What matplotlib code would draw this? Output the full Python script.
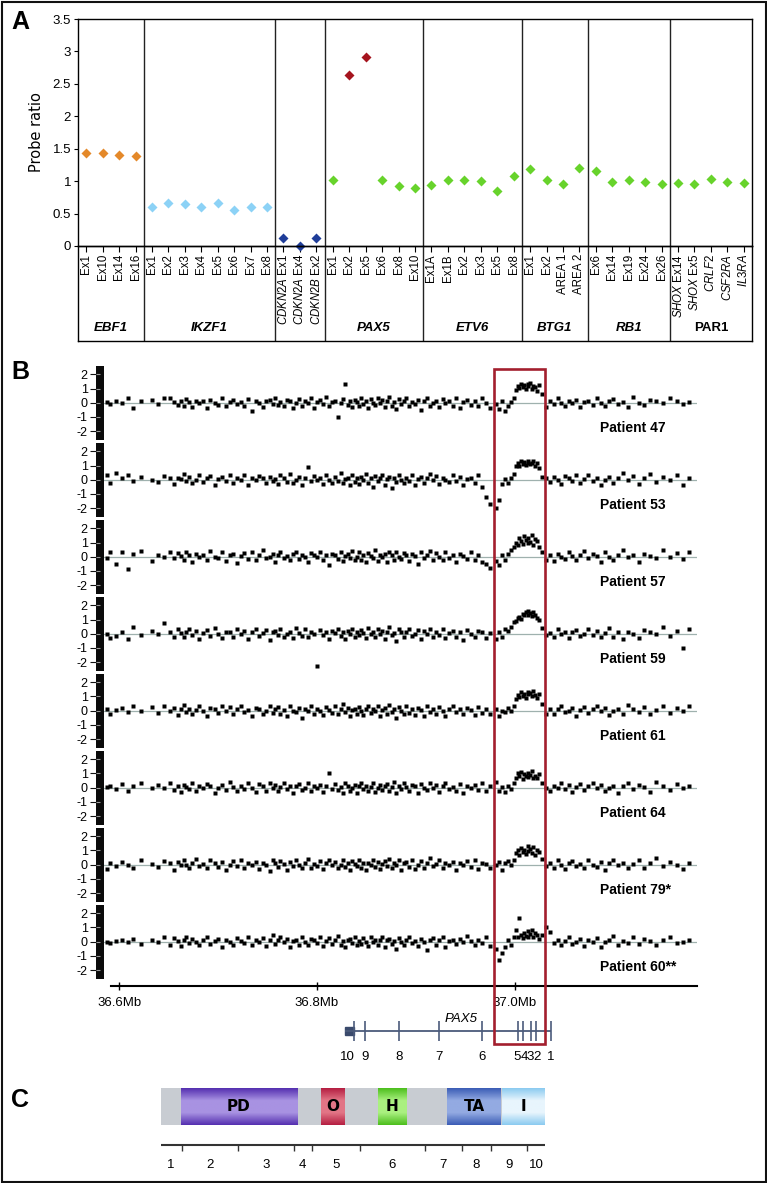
import matplotlib
matplotlib.use('Agg')

import numpy as np
import matplotlib.pyplot as plt
from matplotlib.patches import Rectangle
from matplotlib.colors import LinearSegmentedColormap

plt.rcParams['font.family'] = 'Liberation Sans'
plt.rcParams['mathtext.fontset'] = 'custom'
plt.rcParams['mathtext.rm'] = 'Liberation Sans'
plt.rcParams['mathtext.it'] = 'Liberation Sans:italic'
plt.rcParams['mathtext.bf'] = 'Liberation Sans:bold'

W, H = 767, 1183
NARROW = 'Liberation Sans Narrow'

# PANEL A - MLPA probe ratios
GENE_NAMES = ["EBF1", "IKZF1", "", "PAX5", "ETV6", "BTG1", "RB1", "PAR1"]
GENE_ITALIC = [True, True, True, True, True, True, True, False]
PROBE_LABELS = [
    ["Ex1", "Ex10", "Ex14", "Ex16"],
    ["Ex1", "Ex2", "Ex3", "Ex4", "Ex5", "Ex6", "Ex7", "Ex8"],
    [r"$\mathit{CDKN2A}$ Ex1", r"$\mathit{CDKN2A}$ Ex4", r"$\mathit{CDKN2B}$ Ex2"],
    ["Ex1", "Ex2", "Ex5", "Ex6", "Ex8", "Ex10"],
    ["Ex1A", "Ex1B", "Ex2", "Ex3", "Ex5", "Ex8"],
    ["Ex1", "Ex2", "AREA 1", "AREA 2"],
    ["Ex6", "Ex14", "Ex19", "Ex24", "Ex26"],
    [r"$\mathit{SHOX}$ Ex14", r"$\mathit{SHOX}$ Ex5", r"$\mathit{CRLF2}$",
     r"$\mathit{CSF2RA}$", r"$\mathit{IL3RA}$"],
]
PROBE_RATIOS = [
    [1.44, 1.44, 1.40, 1.39],
    [0.60, 0.66, 0.64, 0.60, 0.66, 0.56, 0.60, 0.60],
    [0.12, 0.00, 0.12],
    [1.01, 2.64, 2.92, 1.02, 0.93, 0.89],
    [0.94, 1.01, 1.01, 1.00, 0.85, 1.08],
    [1.18, 1.01, 0.96, 1.21],
    [1.16, 0.98, 1.02, 0.99, 0.96],
    [0.97, 0.95, 1.04, 0.99, 0.97],
]
GROUP_COLOURS = ["#E4892A", "#8CD2F6", "#1F3D99", "#67D32B",
                 "#67D32B", "#67D32B", "#67D32B", "#67D32B"]
GAIN_COLOUR = "#A5141E"
GAIN_THRESHOLD = 2.0

# PANEL B - array CGH log2 ratios around PAX5 (positions in Mb)
PROBE_MB = [
    36.588, 36.591, 36.597, 36.603, 36.609, 36.614, 36.622, 36.633, 36.639, 36.645,
    36.651, 36.655, 36.659, 36.662, 36.665, 36.667, 36.670, 36.674, 36.678, 36.681,
    36.685, 36.689, 36.692, 36.697, 36.700, 36.704, 36.708, 36.712, 36.715, 36.719,
    36.723, 36.726, 36.730, 36.734, 36.738, 36.741, 36.745, 36.748, 36.752, 36.755,
    36.758, 36.761, 36.763, 36.767, 36.770, 36.773, 36.776, 36.779, 36.782, 36.785,
    36.788, 36.791, 36.794, 36.797, 36.800, 36.803, 36.806, 36.809, 36.812, 36.815,
    36.818, 36.821, 36.824, 36.826, 36.828, 36.831, 36.833, 36.835, 36.838, 36.840,
    36.843, 36.845, 36.847, 36.850, 36.852, 36.855, 36.857, 36.859, 36.862, 36.864,
    36.866, 36.869, 36.871, 36.873, 36.876, 36.878, 36.880, 36.883, 36.885, 36.888,
    36.890, 36.893, 36.896, 36.899, 36.902, 36.905, 36.908, 36.911, 36.914, 36.917,
    36.920, 36.923, 36.927, 36.930, 36.934, 36.938, 36.941, 36.945, 36.948, 36.952,
    36.956, 36.960, 36.963, 36.967, 36.971, 36.975, 36.981, 36.984, 36.987, 36.990,
    36.993, 36.996, 36.999, 37.001, 37.003, 37.004, 37.006, 37.008, 37.009, 37.011,
    37.013, 37.014, 37.016, 37.018, 37.019, 37.021, 37.023, 37.025, 37.028, 37.032,
    37.036, 37.040, 37.044, 37.047, 37.051, 37.055, 37.058, 37.062, 37.066, 37.070,
    37.074, 37.079, 37.083, 37.087, 37.091, 37.095, 37.100, 37.105, 37.110, 37.115,
    37.120, 37.126, 37.131, 37.137, 37.143, 37.150, 37.157, 37.164, 37.170, 37.176,
]

P47 = [
    0.05, -0.1, 0.12, -0.05, 0.3, -0.35, 0.1, 0.2, -0.1, 0.35,
    0.3, 0.02, -0.15, 0.1, -0.2, 0.25, 0.05, -0.3, 0.15, -0.05,
    0.1, -0.4, 0.2, 0.0, -0.15, 0.3, -0.25, 0.08, 0.18, -0.1,
    0.05, -0.2, 0.25, -0.6, 0.1, 0.0, -0.3, 0.15, 0.2, -0.1,
    0.35, -0.15, 0.05, -0.25, 0.2, 0.1, -0.4, 0.0, 0.25, -0.2,
    0.15, -0.05, 0.3, -0.35, 0.08, 0.22, -0.1, 0.4, -0.2, 0.05,
    0.12, -1.0, 0.0, 0.25, 1.3, -0.15, 0.1, -0.3, 0.2, 0.05,
    -0.2, 0.3, -0.1, 0.15, -0.35, 0.25, 0.0, -0.15, 0.35, -0.05,
    0.2, -0.3, 0.1, 0.4, -0.2, 0.05, -0.45, 0.25, -0.1, 0.15,
    0.3, -0.25, 0.05, -0.1, 0.2, -0.5, 0.1, 0.35, -0.2, 0.0,
    0.15, -0.3, 0.25, -0.05, 0.1, -0.2, 0.3, -0.35, 0.05, 0.2,
    -0.15, 0.1, -0.25, 0.3, 0.0, -0.4, -0.1, -0.45, 0.1, -0.6,
    -0.2, 0.05, 0.3, 0.9, 1.2, 1.05, 1.35, 1.1, 1.25, 0.95,
    1.3, 1.15, 1.4, 1.0, 1.2, 1.1, 0.8, 1.25, 0.6, -0.3,
    0.1, -0.1, 0.3, 0.0, -0.25, 0.15, -0.05, 0.2, -0.3, 0.05,
    0.12, -0.15, 0.35, 0.0, -0.2, 0.1, 0.25, -0.1, 0.05, -0.3,
    0.4, 0.0, -0.15, 0.2, 0.1, -0.05, 0.3, 0.15, -0.1, 0.05,
]
P53 = [
    0.3, -0.2, 0.45, 0.1, 0.35, -0.1, 0.2, 0.0, -0.15, 0.25,
    0.1, -0.3, 0.15, 0.05, 0.4, -0.1, 0.2, -0.25, 0.0, 0.3,
    -0.15, 0.1, 0.25, -0.35, 0.05, 0.2, -0.1, 0.35, -0.2, 0.1,
    0.0, 0.3, -0.4, 0.15, -0.05, 0.25, 0.1, -0.25, 0.2, -0.1,
    0.05, -0.3, 0.3, 0.1, -0.15, 0.4, -0.2, 0.0, 0.2, -0.35,
    0.15, 0.9, -0.1, 0.25, -0.05, 0.1, -0.3, 0.35, 0.0, -0.2,
    0.2, -0.1, 0.45, -0.25, 0.05, 0.15, -0.4, 0.3, -0.15, 0.1,
    -0.3, 0.2, 0.0, 0.4, -0.2, 0.1, -0.5, 0.25, -0.1, 0.15,
    0.3, -0.35, 0.05, 0.2, -0.6, 0.1, -0.15, 0.35, 0.0, -0.25,
    0.15, -0.1, 0.3, -0.4, 0.05, 0.2, -0.2, 0.1, 0.4, -0.05,
    0.25, -0.3, 0.1, 0.0, -0.15, 0.3, -0.1, 0.2, -0.35, 0.05,
    0.1, -0.2, 0.3, -0.5, -1.2, -1.7, -2.0, -1.4, -0.3, 0.05,
    -0.2, 0.1, 0.4, 0.95, 1.2, 1.0, 1.3, 1.1, 1.25, 1.05,
    1.2, 1.35, 1.1, 1.15, 1.3, 1.0, 1.2, 0.85, 0.2, 0.1,
    -0.15, 0.2, 0.0, -0.3, 0.25, 0.1, -0.1, 0.35, -0.2, 0.05,
    0.3, -0.1, 0.15, -0.4, 0.0, 0.2, -0.25, 0.1, 0.5, -0.05,
    0.25, -0.3, 0.1, 0.4, -0.15, 0.2, 0.0, 0.3, -0.35, 0.15,
]
P57 = [
    -0.1, 0.35, -0.5, 0.3, -0.9, 0.2, 0.4, -0.3, 0.15, 0.0,
    0.3, -0.1, 0.25, 0.05, -0.2, 0.35, 0.1, -0.35, 0.2, -0.05,
    0.15, -0.25, 0.4, 0.0, -0.1, 0.3, -0.3, 0.1, 0.2, -0.45,
    0.05, 0.25, -0.15, 0.3, -0.2, 0.1, 0.45, -0.1, 0.0, 0.2,
    -0.35, 0.15, 0.3, -0.1, 0.05, -0.25, 0.2, 0.35, -0.15, 0.1,
    0.0, -0.4, 0.25, 0.1, -0.05, 0.3, -0.2, 0.15, -0.6, 0.2,
    0.1, -0.15, 0.35, -0.3, 0.05, 0.2, -0.1, 0.4, -0.25, 0.0,
    0.3, -0.2, 0.15, -0.35, 0.25, 0.05, -0.1, 0.45, -0.3, 0.1,
    -0.05, 0.2, -0.4, 0.3, 0.1, -0.2, 0.35, 0.0, -0.15, 0.25,
    0.1, -0.3, 0.2, 0.05, -0.5, 0.3, -0.1, 0.15, 0.4, -0.2,
    0.25, 0.0, -0.25, 0.35, -0.1, 0.15, -0.4, 0.2, 0.05, -0.15,
    0.3, -0.2, 0.1, -0.35, -0.5, -0.8, -0.3, -0.6, 0.1, -0.2,
    0.2, 0.5, 0.7, 1.0, 0.85, 1.3, 1.1, 0.9, 1.45, 1.2,
    0.95, 1.35, 1.05, 1.5, 0.8, 1.25, 1.1, 0.7, 0.3, -0.2,
    0.1, -0.3, 0.2, 0.0, -0.15, 0.35, 0.05, -0.25, 0.15, 0.4,
    -0.1, 0.2, 0.05, -0.35, 0.3, 0.0, -0.2, 0.1, 0.45, -0.05,
    0.15, -0.4, 0.2, 0.05, -0.1, 0.5, 0.0, 0.25, -0.15, 0.3,
]
P59 = [
    0.0, -0.3, -0.15, 0.1, -0.4, 0.45, -0.1, 0.2, 0.0, 0.75,
    0.15, -0.2, 0.3, 0.05, -0.25, 0.1, 0.35, -0.1, 0.2, -0.4,
    0.05, 0.25, -0.15, 0.4, 0.0, -0.3, 0.15, 0.1, -0.2, 0.3,
    -0.05, 0.2, -0.35, 0.1, 0.3, -0.15, 0.05, 0.25, -0.45, 0.1,
    0.2, -0.1, 0.35, -0.25, 0.0, 0.15, -0.3, 0.4, 0.05, -0.15,
    0.3, -0.2, 0.1, 0.0, -2.3, 0.25, -0.1, 0.15, -0.35, 0.2,
    0.05, 0.35, -0.15, 0.1, -0.4, 0.2, 0.0, 0.3, -0.2, 0.15,
    -0.1, 0.25, 0.05, -0.3, 0.4, -0.05, 0.15, -0.25, 0.3, 0.0,
    0.2, -0.35, 0.1, 0.45, -0.1, 0.05, -0.5, 0.3, 0.15, -0.2,
    0.1, 0.3, -0.15, 0.0, 0.25, -0.4, 0.2, -0.05, 0.35, -0.25,
    0.15, -0.1, 0.3, -0.3, 0.05, 0.2, -0.2, 0.1, -0.45, 0.25,
    0.0, -0.25, 0.2, 0.1, -0.3, 0.05, -0.4, 0.1, -0.2, 0.3,
    0.2, 0.5, 0.8, 0.9, 1.1, 1.2, 1.05, 1.4, 1.3, 1.55,
    1.35, 1.6, 1.45, 1.25, 1.5, 1.3, 1.1, 1.0, 0.4, -0.1,
    0.05, -0.2, 0.3, -0.05, 0.15, -0.3, 0.1, 0.25, -0.15, 0.0,
    0.35, -0.1, 0.2, -0.25, 0.05, 0.4, -0.2, 0.1, -0.35, 0.15,
    0.0, -0.3, 0.25, 0.1, -0.05, 0.45, -0.15, 0.2, -1.0, 0.3,
]
P61 = [
    0.1, -0.2, 0.05, 0.2, -0.1, 0.3, 0.0, 0.25, -0.15, 0.35,
    -0.05, 0.2, -0.3, 0.1, 0.4, -0.1, 0.15, -0.25, 0.05, 0.3,
    0.0, -0.35, 0.2, 0.1, -0.15, 0.35, -0.05, 0.25, -0.2, 0.1,
    0.3, -0.1, 0.05, -0.4, 0.2, 0.15, -0.25, 0.0, 0.35, -0.15,
    0.1, 0.25, -0.2, 0.05, -0.35, 0.3, 0.0, -0.1, 0.2, -0.5,
    0.15, -0.05, 0.35, -0.2, 0.1, 0.0, -0.3, 0.25, 0.05, -0.15,
    0.3, -0.25, 0.1, 0.45, -0.1, 0.2, -0.4, 0.05, 0.15, -0.2,
    0.25, 0.0, -0.3, 0.15, 0.35, -0.15, 0.1, -0.05, 0.3, -0.35,
    0.05, 0.2, -0.2, 0.4, -0.1, 0.15, -0.5, 0.25, 0.0, -0.25,
    0.3, -0.15, 0.1, -0.3, 0.2, 0.05, -0.4, 0.35, -0.1, 0.15,
    -0.2, 0.25, 0.0, -0.35, 0.15, 0.3, -0.1, 0.1, -0.25, 0.2,
    0.05, -0.3, 0.25, -0.15, 0.1, -0.2, 0.15, -0.4, 0.0, -0.1,
    0.2, -0.05, 0.3, 0.8, 1.1, 0.95, 1.3, 1.05, 1.2, 0.9,
    1.35, 1.15, 1.25, 1.0, 1.4, 1.1, 0.9, 1.2, 0.5, -0.2,
    0.15, -0.25, 0.1, 0.3, -0.1, 0.0, 0.2, -0.35, 0.05, 0.25,
    -0.15, 0.1, 0.35, -0.05, 0.2, -0.3, 0.0, 0.15, -0.2, 0.4,
    0.1, -0.1, 0.25, -0.25, 0.05, 0.3, -0.15, 0.2, 0.0, 0.35,
]
P64 = [
    0.05, 0.1, -0.1, 0.25, -0.2, 0.15, 0.3, -0.05, 0.2, 0.0,
    0.35, -0.15, 0.1, -0.3, 0.2, 0.05, -0.1, 0.3, -0.25, 0.15,
    -0.05, 0.25, 0.1, -0.35, 0.0, 0.2, -0.15, 0.4, 0.05, -0.2,
    0.15, -0.1, 0.3, 0.0, -0.3, 0.25, 0.1, -0.2, 0.35, -0.05,
    0.2, -0.25, 0.05, 0.3, -0.1, 0.15, -0.4, 0.1, 0.25, -0.15,
    0.0, 0.35, -0.2, 0.1, -0.05, 0.2, -0.3, 0.15, 1.0, -0.1,
    0.25, -0.15, 0.05, -0.35, 0.3, 0.1, -0.2, 0.0, 0.2, -0.4,
    0.1, 0.3, -0.1, 0.15, -0.25, 0.05, 0.35, -0.3, 0.0, 0.2,
    -0.15, 0.1, 0.25, -0.2, 0.05, 0.4, -0.35, 0.15, -0.1, 0.3,
    0.05, -0.25, 0.2, 0.1, -0.4, 0.25, 0.0, -0.15, 0.3, -0.05,
    0.2, -0.3, 0.1, 0.35, -0.1, 0.05, -0.2, 0.25, -0.35, 0.15,
    0.0, 0.2, -0.15, 0.3, -0.25, 0.1, 0.4, -0.2, 0.05, -0.3,
    0.15, -0.1, 0.3, 0.7, 1.0, 0.85, 1.1, 0.6, 0.95, 0.8,
    1.05, 0.75, 0.9, 1.15, 0.65, 0.85, 0.7, 0.95, 0.3, 0.0,
    -0.2, 0.15, 0.0, 0.3, -0.1, 0.2, -0.3, 0.05, 0.25, -0.15,
    0.1, 0.35, -0.05, 0.2, -0.25, 0.0, 0.15, -0.4, 0.1, 0.3,
    -0.1, 0.2, 0.05, -0.3, 0.4, 0.15, -0.15, 0.25, 0.0, 0.1,
]
P79 = [
    -0.3, 0.15, -0.1, 0.2, 0.0, -0.2, 0.35, 0.05, -0.15, 0.25,
    0.1, -0.35, 0.2, -0.05, 0.3, 0.0, -0.2, 0.15, 0.4, -0.1,
    0.05, -0.25, 0.3, 0.1, -0.15, 0.2, -0.4, 0.0, 0.25, -0.1,
    0.35, -0.2, 0.1, -0.05, 0.2, -0.3, 0.15, 0.0, -0.45, 0.3,
    0.1, -0.15, 0.25, 0.05, -0.35, 0.2, -0.1, 0.3, 0.0, -0.25,
    0.15, 0.4, -0.2, 0.05, -0.1, 0.25, -0.3, 0.1, 0.35, -0.05,
    0.2, -0.25, 0.0, 0.3, -0.15, 0.1, -0.35, 0.25, 0.05, -0.1,
    0.35, -0.2, 0.15, -0.4, 0.1, 0.0, 0.3, -0.15, 0.2, -0.3,
    0.05, 0.25, -0.1, 0.4, -0.25, 0.15, -0.05, 0.3, -0.35, 0.1,
    0.2, -0.15, 0.35, -0.3, 0.0, 0.25, -0.2, 0.1, 0.45, -0.1,
    0.05, 0.3, -0.25, 0.15, -0.05, 0.2, -0.4, 0.1, 0.0, 0.25,
    -0.15, 0.3, -0.3, 0.1, 0.05, -0.2, 0.0, 0.2, -0.35, 0.1,
    0.25, 0.0, 0.35, 0.8, 1.0, 0.7, 1.2, 0.9, 1.05, 0.75,
    1.3, 0.95, 1.1, 0.85, 1.25, 0.65, 1.0, 0.9, 0.4, -0.1,
    0.1, -0.2, 0.3, 0.0, -0.3, 0.15, 0.25, -0.1, 0.05, -0.25,
    0.35, 0.0, -0.15, 0.2, -0.35, 0.1, 0.3, -0.05, 0.15, -0.2,
    0.05, 0.3, -0.25, 0.1, 0.45, -0.1, 0.2, 0.0, -0.3, 0.15,
]
P60 = [
    0.0, -0.1, 0.05, 0.15, -0.05, 0.2, -0.15, 0.1, 0.0, 0.3,
    -0.2, 0.25, 0.05, -0.3, 0.15, 0.35, -0.1, 0.2, 0.0, -0.25,
    0.1, 0.3, -0.15, 0.05, 0.2, -0.35, 0.15, 0.0, -0.2, 0.25,
    0.05, -0.1, 0.35, -0.2, 0.1, 0.0, 0.25, -0.3, 0.15, 0.5,
    -0.15, 0.1, 0.3, -0.05, 0.2, -0.4, 0.05, 0.15, -0.2, 0.35,
    0.0, -0.25, 0.2, 0.1, -0.1, 0.3, -0.3, 0.05, 0.25, -0.15,
    0.15, 0.4, -0.2, 0.05, -0.35, 0.1, 0.2, -0.1, 0.3, -0.25,
    0.05, -0.15, 0.25, 0.0, -0.3, 0.35, -0.05, 0.15, -0.2, 0.1,
    0.3, -0.4, 0.1, 0.2, -0.15, 0.05, -0.5, 0.25, 0.0, -0.25,
    0.15, 0.35, -0.1, 0.05, -0.3, 0.2, 0.0, -0.6, 0.1, 0.25,
    -0.2, 0.1, 0.3, -0.35, 0.05, 0.15, -0.15, 0.2, -0.05, 0.4,
    0.05, -0.2, 0.15, -0.1, 0.3, -0.3, -0.5, -1.3, -0.8, -0.4,
    0.1, -0.2, 0.35, 0.8, 0.3, 1.7, 0.5, 0.25, 0.6, 0.4,
    0.75, 0.3, 0.55, 0.8, 0.35, 0.6, 0.45, 0.2, 0.5, 1.0,
    0.7, -0.1, 0.15, -0.2, 0.05, 0.3, -0.15, 0.0, 0.2, -0.3,
    0.1, -0.05, 0.25, -0.35, 0.0, 0.15, 0.4, -0.2, 0.05, -0.1,
    0.3, -0.15, 0.2, 0.05, -0.25, 0.1, 0.35, -0.1, 0.0, 0.15,
]
PATIENT_NAMES = ["Patient 47", "Patient 53", "Patient 57", "Patient 59",
                 "Patient 61", "Patient 64", "Patient 79*", "Patient 60**"]
PATIENT_VALUES = [P47, P53, P57, P59, P61, P64, P79, P60]

MB_TICKS = [36.6, 36.8, 37.0]
MB_TICK_LABELS = ["36.6Mb", "36.8Mb", "37.0Mb"]
BOX_MB = (36.9795, 37.0308)

# PAX5 gene model (minus strand, exon 10 at the left)
GENE_SPAN_MB = (36.8283, 37.0368)
UTR_MB = (36.8283, 36.8372)
EXON_MB = [36.8372, 36.8486, 36.8827, 36.9238, 36.9670,
           37.0037, 37.0082, 37.0166, 37.0217, 37.0368]
EXON_NAMES = ["10", "9", "8", "7", "6", "5", "4", "3", "2", "1"]

# PANEL C - PAX5 protein (amino acids)
PROTEIN_LEN = 391
EXON_BOUNDS_AA = [0, 21.4, 78.7, 135.8, 154.1, 203.0, 269.0, 307.3, 336.2, 373.6, 391]
DOMAIN_NAMES = ["PD", "O", "H", "TA", "I"]
DOMAIN_AA = [(20.4, 139.0), (163.4, 186.9), (221.2, 250.6), (292.0, 346.7), (348.2, 391.0)]
DOMAIN_COLOURS = [("#5530b0", "#a892e2"), ("#b51f42", "#e27586"), ("#4dbf1e", "#aaf080"),
                  ("#3c5db6", "#93aae2"), ("#8ccbf0", "#e8f5fd")]


fig = plt.figure(figsize=(W / 100, H / 100), dpi=100)


def px_axes(x0, y0, x1, y1, **kw):
    return fig.add_axes([x0 / W, 1 - y1 / H, (x1 - x0) / W, (y1 - y0) / H], **kw)


def panel_letter(x, y, s):
    fig.text(x / W, 1 - y / H, s, ha='center', va='center', fontsize=18, fontweight='bold')


# ---------------- Panel A ----------------
labels = [lab for grp in PROBE_LABELS for lab in grp]
ratios = [v for grp in PROBE_RATIOS for v in grp]
colours = []
for gi, grp in enumerate(PROBE_RATIOS):
    for v in grp:
        colours.append(GAIN_COLOUR if v > GAIN_THRESHOLD else GROUP_COLOURS[gi])
n = len(labels)
xs = np.arange(n)
sizes = [len(g) for g in PROBE_LABELS]
bounds = np.concatenate([[0], np.cumsum(sizes)]) - 0.5

axA = px_axes(78, 19, 752, 246)
for x, v, c in zip(xs, ratios, colours):
    axA.plot(x, v, marker='D', ms=5.0, color=c, mec='none', clip_on=False)
axA.set_xlim(-0.5, n - 0.5)
axA.set_ylim(0, 3.5)
yt = np.arange(0, 3.51, 0.5)
axA.set_yticks(yt)
axA.set_yticklabels([f"{v:g}" for v in yt])
axA.set_xticks(xs)
axA.set_xticklabels(labels, rotation=90)
axA.tick_params(axis='x', length=4.3, width=0.8, pad=1.5, labelsize=8.3)
axA.tick_params(axis='y', length=3, width=0.8, pad=2, labelsize=9.5)
for s in axA.spines.values():
    s.set_linewidth(1.0)
axA.set_ylabel("Probe ratio", fontfamily=NARROW, fontsize=10.5)
axA.yaxis.set_label_coords(-0.05, 0.5)

axL = px_axes(78, 246, 752, 341, facecolor='none')
axL.set_xlim(-0.5, n - 0.5)
axL.set_ylim(0, 1)
axL.set_xticks([])
axL.set_yticks([])
for s in axL.spines.values():
    s.set_linewidth(1.0)
for b in bounds[1:-1]:
    axA.axvline(b, color='#222', lw=1.0)
    axL.axvline(b, color='#222', lw=1.0)
for gi, name in enumerate(GENE_NAMES):
    if name:
        axL.text((bounds[gi] + bounds[gi + 1]) / 2, 0.14, name, ha='center', va='center',
                 fontsize=9.5, fontweight='bold',
                 style='italic' if GENE_ITALIC[gi] else 'normal')

panel_letter(20, 22, "A")

# ---------------- Panel B ----------------
ZERO0, STRIP, PX_UNIT = 402.7, 77.0, 14.2
YLIM = (-2.6, 2.55)
MB_LIM = (36.5845, 37.1845)
STRIP_X0, STRIP_X1 = 104, 697

for k, (name, vals) in enumerate(zip(PATIENT_NAMES, PATIENT_VALUES)):
    zero = ZERO0 + k * STRIP
    top = zero - YLIM[1] * PX_UNIT
    bot = zero - YLIM[0] * PX_UNIT
    ax = px_axes(STRIP_X0, top, STRIP_X1, bot, facecolor='none')
    ax.set_xlim(MB_LIM)
    ax.set_ylim(YLIM)
    ax.axis('off')
    ax.axhline(0, color='#9fb1ae', lw=0.9, zorder=1)
    ax.plot(PROBE_MB, vals, 's', ms=2.3, color='#000000', mec='none', zorder=2, clip_on=False)

    bar = px_axes(96, top, STRIP_X0, bot)
    bar.set_facecolor('#0b0b0b')
    bar.set_ylim(YLIM)
    bar.set_xticks([])
    for s in bar.spines.values():
        s.set_visible(False)
    ticks = [-2, -1, 0, 1, 2]
    bar.set_yticks(ticks)
    bar.set_yticklabels([str(t) for t in ticks])
    bar.set_yticks(ticks, minor=True)
    bar.yaxis.remove_overlapping_locs = False
    bar.tick_params(axis='y', which='major', direction='out', length=4.5, width=0.8,
                    color='#111', pad=1.5, labelsize=9)
    bar.tick_params(axis='y', which='minor', direction='in', length=3, width=0.8,
                    color='#9a9a9a')

    fig.text(600 / W, 1 - (zero + 25.5) / H, name, ha='left', va='center',
             fontsize=10, fontweight='bold')

axX = px_axes(STRIP_X0, 980, STRIP_X1, 986, facecolor='none')
axX.set_xlim(MB_LIM)
for side in ['top', 'left', 'right']:
    axX.spines[side].set_visible(False)
axX.spines['bottom'].set_linewidth(1.5)
axX.spines['bottom'].set_bounds(36.592, 37.185)
axX.set_yticks([])
axX.set_xticks(MB_TICKS)
axX.set_xticklabels(MB_TICK_LABELS)
axX.tick_params(axis='x', direction='inout', length=6, width=1.0, labelsize=9.5, pad=5)

# gene model
axG = px_axes(STRIP_X0, 1010, STRIP_X1, 1065, facecolor='none')
axG.set_xlim(MB_LIM)
axG.set_ylim(55, 0)
axG.axis('off')
gene_col = '#4b5b7b'
axG.hlines(20.7, GENE_SPAN_MB[0], GENE_SPAN_MB[1], color=gene_col, lw=1.3)
axG.add_patch(Rectangle((UTR_MB[0], 16.7), UTR_MB[1] - UTR_MB[0], 8, color='#3a4a6c'))
axG.vlines(EXON_MB, 11, 31, color=gene_col, lw=1.2)

# spread exon number labels that would collide
mb_per_px = (MB_LIM[1] - MB_LIM[0]) / (STRIP_X1 - STRIP_X0)
min_gap = 7.6 * mb_per_px
lab_x = list(EXON_MB)
lab_x[0] = UTR_MB[0] + 0.3 * (UTR_MB[1] - UTR_MB[0])
i = 0
while i < len(lab_x):
    j = i
    while j + 1 < len(lab_x) and lab_x[j + 1] - lab_x[j] < min_gap:
        j += 1
    if j > i:
        c = np.mean(lab_x[i:j + 1])
        for m in range(i, j + 1):
            lab_x[m] = c + (m - (i + j) / 2) * min_gap
    i = j + 1
for x, s in zip(lab_x, EXON_NAMES):
    axG.text(x, 47, s, ha='center', va='center', fontsize=9.5)
axG.text(np.mean([EXON_MB[3], EXON_MB[4]]), 9, "PAX5", ha='center', va='center',
         fontsize=9.5, style='italic')

# red box over the gained region
axR = px_axes(STRIP_X0, 369, STRIP_X1, 1043.7, facecolor='none', zorder=10)
axR.set_xlim(MB_LIM)
axR.set_ylim(0, 1)
axR.axis('off')
axR.add_patch(Rectangle((BOX_MB[0], 0), BOX_MB[1] - BOX_MB[0], 1, fill=False,
                        ec='#a31f2e', lw=1.9, clip_on=False))

panel_letter(20, 372, "B")

# ---------------- Panel C ----------------
axC = px_axes(160.5, 1080, 544.5, 1175, facecolor='none')
axC.add_patch(Rectangle((0, 8.3), PROTEIN_LEN, 36.7, color='#c8ccd2', lw=0, zorder=1))
grad = np.linspace(0, 1, 64).reshape(-1, 1)
for name, (a0, a1), (edge, mid) in zip(DOMAIN_NAMES, DOMAIN_AA, DOMAIN_COLOURS):
    cmap = LinearSegmentedColormap.from_list(name, [edge, mid, mid, edge])
    axC.imshow(grad, extent=(a0, a1, 45, 8.3), aspect='auto', cmap=cmap,
               interpolation='bilinear', zorder=2)
    axC.text((a0 + a1) / 2, 26.6, name, ha='center', va='center', fontsize=11,
             fontweight='bold', fontfamily=NARROW, zorder=3)
axC.hlines(65.3, 0, PROTEIN_LEN, color='#333', lw=1.5)
axC.vlines(EXON_BOUNDS_AA[1:-1], 65.3, 70.5, color='#333', lw=1.0)
mids = [(a + b) / 2 for a, b in zip(EXON_BOUNDS_AA[:-1], EXON_BOUNDS_AA[1:])]
for k, x in enumerate(mids):
    axC.text(x, 85, str(k + 1), ha='center', va='center', fontsize=9.5)
axC.set_xlim(0, PROTEIN_LEN)
axC.set_ylim(95, 0)
axC.axis('off')

panel_letter(20, 1100, "C")

# outer frame
fig.add_artist(Rectangle((1.5 / W, 1.5 / H), (W - 3) / W, (H - 3) / H,
                         transform=fig.transFigure, fill=False, lw=1.5, ec='#111'))

fig.savefig("out.png", dpi=100)
